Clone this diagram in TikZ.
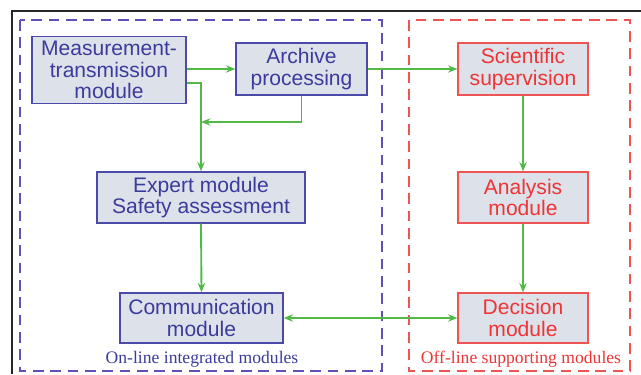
\documentclass[tikz,border=0pt]{standalone}
\usepackage{fontspec}
\setmainfont{Liberation Serif}
\setsansfont{Liberation Sans}
\usetikzlibrary{arrows.meta, positioning, calc}
\definecolor{OnText}{HTML}{3B3B9C}
\definecolor{OnLine}{HTML}{4C4AA8}
\definecolor{OnDash}{HTML}{5E52B8}
\definecolor{OffText}{HTML}{EE3434}
\definecolor{OffLine}{HTML}{EE5454}
\definecolor{BoxFill}{HTML}{DDE2EA}
\definecolor{Flow}{HTML}{52B848}
\tikzset{
  mod/.style={
    rectangle, fill=BoxFill, align=center, inner sep=0pt,
    font=\sffamily\fontsize{15.8}{16.3}\selectfont
  },
  onmod/.style={mod, draw=OnLine, text=OnText, line width=1pt},
  offmod/.style={mod, draw=OffLine, text=OffText, line width=0.9pt},
  region/.style={dash pattern=on 8pt off 5pt, line width=1pt},
  flow/.style={-{Stealth[length=7pt, width=5.5pt]}, line width=1.4pt, color=Flow},
  flow2/.style={{Stealth[length=7pt, width=5.5pt]}-{Stealth[length=7pt, width=5.5pt]}, line width=1.4pt, color=Flow},
  tag/.style={font=\fontsize{13.2}{15}\selectfont}
}
\begin{document}
\begin{tikzpicture}[x=0.75pt, y=-0.75pt]
\useasboundingbox (0,0) rectangle (641,374);

% frame and regions
\draw[line width=1.1pt, black!85] (641,11) -- (12,11) -- (12,374);
\draw[region, OnDash] (20,20) rectangle (382,371);
\draw[region, OffLine] (409,20) rectangle (630,371);

% on-line modules
\node[onmod, minimum width=115.5pt, minimum height=50.25pt] at (109,70) (meas) {Measurement-\\transmission\\module};
\node[onmod, minimum width=98.25pt, minimum height=39pt] at (301.5,69) (arch) {Archive\\processing};
\node[onmod, minimum width=156pt, minimum height=38.25pt] at (201,197.5) (expert) {Expert module\\Safety assessment};
\node[onmod, minimum width=122.25pt, minimum height=37.5pt] at (201.5,318) (comm) {Communication\\module};

% off-line modules
\node[offmod, minimum width=97.5pt, minimum height=39pt] at (523,69) (sci) {Scientific\\supervision};
\node[offmod, minimum width=97.5pt, minimum height=38.25pt] at (523,197.5) (ana) {Analysis\\module};
\node[offmod, minimum width=97.5pt, minimum height=37.5pt] at (523,318) (dec) {Decision\\module};

% region labels
\node[tag, text=OnText] at (202,359) (onlab) {On-line integrated modules};
\node[tag, text=OffText] at (521,359) (offlab) {Off-line supporting modules};

% connectors
\coordinate (join) at (201,122);
\draw[flow] (meas.east |- arch.west) -- (arch.west);
\draw[flow] ($(meas.east)+(0,13)$) -| (expert.north);
\draw[flow] (arch.south) |- (join);
\draw[flow] (arch.east) -- (sci.west);
\draw[flow] (expert.south) -- (comm.north);
\draw[flow] (sci.south) -- (ana.north);
\draw[flow] (ana.south) -- (dec.north);
\draw[flow2] (comm.east) -- (dec.west);

\end{tikzpicture}
\end{document}
